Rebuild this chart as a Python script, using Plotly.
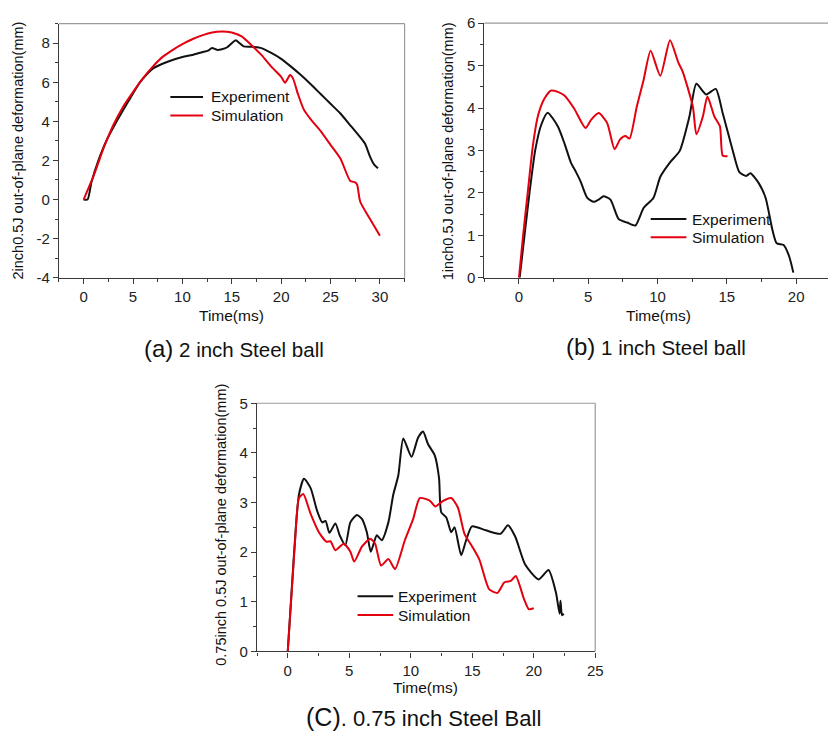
import plotly.graph_objects as go

# ---- (a) 2 inch steel ball ----
a_exp_t = [0, 0.4, 0.8, 1.5, 2.3, 3.35, 4.5, 5.7, 7, 8.5, 10, 11, 12, 12.6, 13, 13.5, 14, 14.5, 15, 15.4, 15.8, 16.2, 17, 18, 19, 20, 21, 22, 23, 24, 25, 26, 27, 28, 28.5, 29, 29.4, 29.8]
a_exp_v = [0, 0, 0.9, 2.0, 3.0, 4.0, 5.0, 6.0, 6.7, 7.05, 7.29, 7.4, 7.54, 7.62, 7.76, 7.66, 7.69, 7.78, 8.0, 8.15, 8.0, 7.84, 7.82, 7.75, 7.5, 7.2, 6.8, 6.37, 5.9, 5.4, 4.9, 4.4, 3.8, 3.19, 2.85, 2.2, 1.8, 1.6]
a_sim_t = [0, 0.5, 1, 1.5, 2, 3, 4, 5, 6, 7, 8, 9, 10, 11, 12, 13, 14, 15, 16, 17, 18, 19, 20, 20.4, 20.9, 21.2, 21.7, 22.3, 23, 24, 25, 26, 27, 27.5, 27.7, 28, 29, 30]
a_sim_v = [0, 0.6, 1.2, 1.9, 2.6, 3.8, 4.75, 5.5, 6.2, 6.8, 7.3, 7.65, 7.95, 8.2, 8.4, 8.55, 8.6, 8.55, 8.35, 7.9, 7.4, 6.8, 6.28, 5.98, 6.37, 6.2, 5.4, 4.6, 4.1, 3.5, 2.8, 2.1, 0.95, 0.88, 0.75, -0.1, -1.0, -1.85]
a_yticks = [-4, -2, 0, 2, 4, 6, 8]
a_yticklabels = ["-4", "-2", "0", "2", "4", "6", "8"]

# ---- (b) 1 inch steel ball ----
b_exp_t = [0.05, 0.4, 0.76, 1.17, 1.6, 2.07, 2.8, 3.3, 3.74, 4.1, 4.46, 4.93, 5.4, 5.8, 6.1, 6.6, 7.2, 7.8, 8.4, 9.0, 9.7, 10.2, 10.9, 11.6, 12.3, 12.8, 13.5, 14.2, 14.7, 15.4, 15.9, 16.4, 16.7, 17.3, 17.8, 18.3, 18.6, 19.1, 19.5, 19.8]
b_exp_v = [0, 1.0, 2.0, 3.0, 3.6, 3.89, 3.57, 3.15, 2.72, 2.5, 2.26, 1.88, 1.79, 1.85, 1.92, 1.84, 1.38, 1.30, 1.23, 1.65, 1.88, 2.38, 2.72, 2.99, 3.80, 4.57, 4.32, 4.45, 3.88, 3.03, 2.49, 2.40, 2.46, 2.23, 1.88, 1.11, 0.81, 0.77, 0.5, 0.12]
b_sim_t = [0, 0.3, 0.64, 1.0, 1.36, 1.8, 2.3, 2.8, 3.26, 3.98, 4.8, 5.2, 5.76, 6.36, 6.9, 7.3, 7.67, 7.98, 8.5, 8.98, 9.5, 10.2, 10.9, 11.5, 11.8, 12.55, 12.8, 13.27, 13.6, 14.1, 14.5, 14.7, 15.05]
b_sim_v = [0, 1.0, 2.03, 3.1, 3.80, 4.2, 4.41, 4.38, 4.30, 3.99, 3.53, 3.72, 3.88, 3.65, 3.03, 3.26, 3.34, 3.28, 4.03, 4.64, 5.35, 4.76, 5.60, 5.07, 4.87, 4.03, 3.38, 3.80, 4.27, 3.80, 3.57, 2.88, 2.86]

# ---- (c) 0.75 inch steel ball ----
c_exp_t = [0, 0.51, 0.91, 1.32, 1.86, 2.39, 2.8, 3.07, 3.39, 3.87, 4.22, 4.68, 5.09, 5.62, 6.03, 6.43, 6.75, 7.24, 7.64, 8.18, 8.58, 8.99, 9.39, 10.06, 10.6, 11.0, 11.4, 11.95, 12.3, 12.48, 12.89, 13.29, 13.56, 14.1, 14.5, 14.98, 16.1, 17.3, 17.9, 18.5, 19.3, 20.4, 21.2, 21.8, 22.1, 22.17, 22.3, 22.44]
c_exp_v = [0, 1.98, 3.16, 3.48, 3.29, 2.83, 2.60, 2.63, 2.39, 2.58, 2.34, 2.14, 2.60, 2.75, 2.67, 2.40, 2.01, 2.34, 2.24, 2.60, 3.16, 3.55, 4.29, 3.92, 4.31, 4.43, 4.18, 3.95, 3.49, 2.80, 2.70, 2.40, 2.50, 1.94, 2.24, 2.52, 2.44, 2.37, 2.54, 2.31, 1.75, 1.45, 1.64, 1.19, 0.76, 1.02, 0.73, 0.76]
c_sim_t = [0, 0.56, 0.91, 1.26, 1.86, 2.53, 3.15, 3.47, 3.87, 4.55, 5.09, 5.4, 6.03, 6.7, 7.1, 7.59, 8.18, 8.72, 9.52, 10.2, 10.73, 11.54, 12.0, 12.6, 13.29, 13.83, 14.37, 15.0, 15.58, 16.38, 17.06, 17.6, 18.13, 18.54, 19.2, 19.6, 20.0]
c_sim_v = [0, 2.1, 3.09, 3.17, 2.77, 2.40, 2.21, 2.22, 2.04, 2.17, 2.01, 1.81, 2.11, 2.27, 2.17, 1.73, 1.86, 1.66, 2.24, 2.67, 3.09, 3.04, 2.92, 3.03, 3.09, 2.90, 2.37, 2.11, 1.85, 1.25, 1.18, 1.39, 1.42, 1.52, 1.06, 0.85, 0.87]

series_names = ["Experiment", "Simulation"]
y_titles = [
    "2inch0.5J out-of-plane deformation(mm)",
    "1inch0.5J out-of-plane deformation(mm)",
    "0.75inch 0.5J out-of-plane deformation(mm)",
]
x_title = "Time(ms)"

W, H = 836, 742
BLACK = "#111111"
RED = "#e3000f"
SERIES_COLORS = [BLACK, RED]
FONT = "Liberation Sans, Arial, sans-serif"


def px(x):
    return x / W


def py(y):
    return 1 - y / H


# plot-area boxes in pixels: left, right, top, bottom
boxes = {
    "a": (59.5, 408.5, 15, 275),
    "b": (489, 836, 14.5, 275),
    "c": (259.5, 601, 403.5, 657.5),
}

fig = go.Figure()

panels = [
    ("a", "x", "y", a_exp_t, a_exp_v, a_sim_t, a_sim_v),
    ("b", "x2", "y2", b_exp_t, b_exp_v, b_sim_t, b_sim_v),
    ("c", "x3", "y3", c_exp_t, c_exp_v, c_sim_t, c_sim_v),
]
for key, xa, ya, et, ev, st, sv in panels:
    for name, color, tt, vv in [(series_names[0], BLACK, et, ev), (series_names[1], RED, st, sv)]:
        fig.add_trace(go.Scatter(x=tt, y=vv, mode="lines", name=name, showlegend=False,
                                 line=dict(color=color, width=2, shape="spline", smoothing=0.6),
                                 xaxis=xa, yaxis=ya))

axis_common = dict(
    showline=True, linecolor="#3a3a3a", linewidth=1.2, mirror=False,
    showgrid=False, zeroline=False, ticks="outside", ticklen=5, tickwidth=1,
    tickcolor="#3a3a3a", tickfont=dict(family=FONT, size=15, color="#222"),
    minor=dict(ticks="outside", ticklen=3, tickcolor="#3a3a3a", tickwidth=1),
)


def xdom(k):
    l, r, t, b = boxes[k]
    return [px(l), px(r)]


def ydom(k):
    l, r, t, b = boxes[k]
    return [py(b), py(t)]


fig.update_layout(
    xaxis=dict(axis_common, domain=xdom("a"), range=[-2.5, 32.5], dtick=5, tick0=0,
               minor=dict(axis_common["minor"], dtick=2.5), anchor="y"),
    yaxis=dict(axis_common, domain=ydom("a"), range=[-4, 9],
               tickvals=a_yticks, ticktext=a_yticklabels,
               minor=dict(axis_common["minor"], dtick=1, tick0=0), anchor="x"),
    xaxis2=dict(axis_common, domain=xdom("b"), range=[-2.5, 22.3], dtick=5, tick0=0,
                minor=dict(axis_common["minor"], dtick=2.5), anchor="y2"),
    yaxis2=dict(axis_common, domain=ydom("b"), range=[0, 6], dtick=1, tick0=0,
                minor=dict(axis_common["minor"], dtick=0.5), anchor="x2"),
    xaxis3=dict(axis_common, domain=xdom("c"), range=[-2.5, 25], dtick=5, tick0=0,
                minor=dict(axis_common["minor"], dtick=2.5), anchor="y3"),
    yaxis3=dict(axis_common, domain=ydom("c"), range=[0, 5], dtick=1, tick0=0,
                minor=dict(axis_common["minor"], dtick=0.5), anchor="x3"),
    width=W, height=H,
    margin=dict(l=0, r=0, t=0, b=0),
    paper_bgcolor="white", plot_bgcolor="white",
    font=dict(family=FONT, color="#111"),
    showlegend=False,
)

shapes = []
ann = []

# light frame on the top and right edges
for k in ["a", "b", "c"]:
    l, r, t, b = boxes[k]
    shapes.append(dict(type="line", xref="paper", yref="paper", x0=px(l), x1=px(r),
                       y0=py(t), y1=py(t), line=dict(color="#9a9a9a", width=1.2)))
    if k != "b":
        shapes.append(dict(type="line", xref="paper", yref="paper", x0=px(r), x1=px(r),
                           y0=py(t), y1=py(b), line=dict(color="#9a9a9a", width=1.2)))

# in-plot legends: sample line start/end, text x, first row y, row step
legend_spots = [(172, 205, 211, 90, 19), (657, 693, 697, 215, 18.7), (361, 397, 400, 601, 19.3)]
for x0, x1, xt, y0, step in legend_spots:
    for i, (name, color) in enumerate(zip(series_names, SERIES_COLORS)):
        yy = y0 + i * step
        shapes.append(dict(type="line", xref="paper", yref="paper", x0=px(x0), x1=px(x1),
                           y0=py(yy), y1=py(yy), line=dict(color=color, width=2)))
        ann.append(dict(x=px(xt), y=py(yy), xref="paper", yref="paper", text=name,
                        showarrow=False, xanchor="left", yanchor="middle",
                        font=dict(family=FONT, size=15.5, color="#111")))

# y-axis titles
for (x, y), txt in zip([(18, 145), (452, 146), (223, 528)], y_titles):
    ann.append(dict(x=px(x), y=py(y), xref="paper", yref="paper", text=txt,
                    textangle=-90, showarrow=False, xanchor="center", yanchor="middle",
                    font=dict(family=FONT, size=14.5, color="#111")))
# x-axis titles
for x, y in [(234, 314), (665, 314), (430, 694)]:
    ann.append(dict(x=px(x), y=py(y), xref="paper", yref="paper", text=x_title,
                    showarrow=False, xanchor="center", yanchor="middle",
                    font=dict(family=FONT, size=15.5, color="#111")))
# captions
captions = [
    (236, 347, "(a)", " 2 inch Steel ball", 24, 20.5),
    (662, 345, "(b)", " 1 inch Steel ball", 24, 20.5),
    (428, 725, "(C)", ". 0.75 inch Steel Ball", 25, 22),
]
for x, y, head, rest, hs, rs in captions:
    ann.append(dict(x=px(x), y=py(y), xref="paper", yref="paper",
                    text=f"<span style='font-size:{hs}px'>{head}</span>{rest}",
                    showarrow=False, xanchor="center", yanchor="middle",
                    font=dict(family=FONT, size=rs, color="#111")))

fig.update_layout(shapes=shapes, annotations=ann)

fig.write_html("out.html")
